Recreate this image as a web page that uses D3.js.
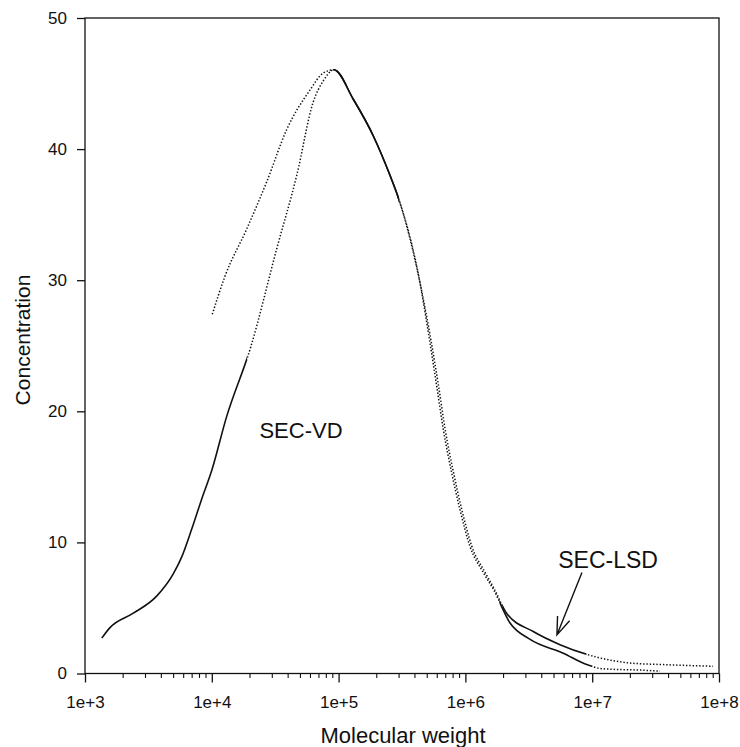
<!DOCTYPE html>
<html>
<head>
<meta charset="utf-8">
<script src="https://cdn.jsdelivr.net/npm/d3@7"></script>
<style>
  html, body { margin: 0; padding: 0; background: #fff; }
  svg { display: block; font-family: "Liberation Sans", Arial, sans-serif; }
</style>
</head>
<body>
<svg id="chart" width="740" height="747"></svg>
<script>
// ---- data ----
const xTickValues = [1e3, 1e4, 1e5, 1e6, 1e7, 1e8];
const xTickLabels = ["1e+3", "1e+4", "1e+5", "1e+6", "1e+7", "1e+8"];
const yTickValues = [0, 10, 20, 30, 40, 50];

// SEC-VD (starts at low MW, lower tail)
const vdMW = [1356, 1574, 2404, 3673, 4966, 5794, 6934, 8318, 10000, 13000, 20280,
  32510, 46770, 63100, 75680, 92040, 130600, 187900, 254100, 298000, 438500,
  526000, 594300, 669900, 779800, 905700, 1.086e6, 1.384e6, 1.667e6,
  2.249e6, 3.236e6, 5.916e6, 8.93e6, 1.216e7, 2.512e7, 3.428e7];
const vdConc = [2.7, 3.5, 4.6, 5.9, 7.6, 8.9, 11.0, 13.3, 15.5, 19.5, 24.9,
  32.4, 38.0, 43.6, 45.2, 46.05, 43.8, 41.0, 38.0, 36.2, 29.8,
  25.2, 21.9, 18.6, 15.3, 12.5, 9.7, 7.7, 6.4,
  3.85, 2.6, 1.55, 0.7, 0.36, 0.25, 0.18];

// SEC-LSD (starts at 1e4, upper tail)
const lsdMW = [10090, 12700, 18840, 27100, 39000, 59430, 75680, 92040, 130600,
  187900, 254100, 298000, 438500, 540000, 615000, 693000, 807000,
  937000, 1.124e6, 1.432e6, 1.700e6, 2.113e6, 3.428e6, 5.572e6, 1.084e7,
  1.986e7, 3.639e7, 8.974e7];
const lsdConc = [27.4, 30.3, 33.9, 37.5, 41.5, 44.5, 45.8, 46.05, 43.8,
  41.0, 38.0, 36.2, 29.8, 25.2, 21.9, 18.6, 15.3,
  12.5, 9.7, 7.7, 6.4, 4.6, 3.2, 2.2, 1.25,
  0.8, 0.68, 0.55];

const vdLabel = { text: "SEC-VD", mw: 5.05e4, c: 18.0 };
const lsdLabel = { text: "SEC-LSD", mw: 1.334e7, c: 8.05 };
const arrowTail = { mw: 8.3e6, c: 7.7 };
const arrowTip = { mw: 5.27e6, c: 2.94 };

// ---- layout ----
const svg = d3.select("#chart");
const mLeft = 85, mRight = 719, mTop = 18, mBottom = 673.5;
const x = d3.scaleLog().domain([1e3, 1e8]).range([mLeft, mRight]);
const y = d3.scaleLinear().domain([0, 50]).range([mBottom, mTop]);
const ink = "#111";

// frame
svg.append("rect").attr("x", mLeft).attr("y", mTop)
  .attr("width", mRight - mLeft).attr("height", mBottom - mTop)
  .attr("fill", "none").attr("stroke", ink).attr("stroke-width", 1.3);

// x axis
const minorX = [];
for (let e = 3; e < 8; e++) for (let m = 2; m <= 9; m++) minorX.push(m * Math.pow(10, e));
const xAxis = d3.axisBottom(x).tickValues(xTickValues)
  .tickFormat((d, i) => xTickLabels[i]).tickSize(9).tickPadding(13);
const gx = svg.append("g").attr("transform", `translate(0,${mBottom})`).call(xAxis);
gx.select(".domain").remove();
gx.selectAll(".tick line").attr("stroke", ink).attr("stroke-width", 1.3);
gx.selectAll(".tick text").attr("font-size", 17).attr("fill", ink)
  .attr("font-family", '"Liberation Sans", Arial, sans-serif');
svg.append("g").selectAll("line").data(minorX).join("line")
  .attr("x1", d => x(d)).attr("x2", d => x(d))
  .attr("y1", mBottom).attr("y2", mBottom + 4.5)
  .attr("stroke", ink).attr("stroke-width", 1.1);

// y axis
const yAxis = d3.axisLeft(y).tickValues(yTickValues).tickSize(8).tickPadding(10);
const gy = svg.append("g").attr("transform", `translate(${mLeft},0)`).call(yAxis);
gy.select(".domain").remove();
gy.selectAll(".tick line").attr("stroke", ink).attr("stroke-width", 1.3);
gy.selectAll(".tick text").attr("font-size", 17).attr("fill", ink)
  .attr("font-family", '"Liberation Sans", Arial, sans-serif');

// axis titles
svg.append("text").attr("x", (mLeft + mRight) / 2 + 1).attr("y", 743)
  .attr("text-anchor", "middle").attr("font-size", 22).attr("fill", ink)
  .text("Molecular weight");
svg.append("text").attr("transform", `translate(30,340) rotate(-90)`)
  .attr("text-anchor", "middle").attr("font-size", 21).attr("fill", ink)
  .text("Concentration");

// clip regions for solid / dotted segments
const defs = svg.append("defs");
function clipRange(id, ranges) {
  const cp = defs.append("clipPath").attr("id", id);
  ranges.forEach(([a, b]) => {
    cp.append("rect").attr("x", x(a)).attr("y", 0)
      .attr("width", x(b) - x(a)).attr("height", 747);
  });
}
clipRange("vdSolid", [[1e3, 1.9e4], [9.2e4, 3.0e5], [1.85e6, 1.0e7]]);
clipRange("vdDot", [[1.9e4, 9.2e4], [3.0e5, 1.85e6], [1.0e7, 1e8]]);
clipRange("lsdSolid", [[9.2e4, 3.0e5], [1.95e6, 9.0e6]]);
clipRange("lsdDot", [[1e3, 9.2e4], [3.0e5, 1.95e6], [9.0e6, 1e8]]);

const line = d3.line().x(d => x(d[0])).y(d => y(d[1])).curve(d3.curveMonotoneX);
const vd = vdMW.map((m, i) => [m, vdConc[i]]);
const lsd = lsdMW.map((m, i) => [m, lsdConc[i]]);

function drawSeries(data, solidId, dotId) {
  svg.append("path").datum(data).attr("d", line)
    .attr("fill", "none").attr("stroke", ink).attr("stroke-width", 1.6)
    .attr("clip-path", `url(#${solidId})`);
  svg.append("path").datum(data).attr("d", line)
    .attr("fill", "none").attr("stroke", ink).attr("stroke-width", 1.5)
    .attr("stroke-dasharray", "1.4 1.9")
    .attr("clip-path", `url(#${dotId})`);
}
drawSeries(vd, "vdSolid", "vdDot");
drawSeries(lsd, "lsdSolid", "lsdDot");

// labels
svg.append("text").attr("x", x(vdLabel.mw)).attr("y", y(vdLabel.c))
  .attr("text-anchor", "middle").attr("font-size", 22).attr("fill", ink)
  .text(vdLabel.text);
svg.append("text").attr("x", x(lsdLabel.mw)).attr("y", y(lsdLabel.c))
  .attr("text-anchor", "middle").attr("font-size", 23).attr("fill", ink)
  .text(lsdLabel.text);

// arrow
const tx = x(arrowTail.mw), ty = y(arrowTail.c);
const hx = x(arrowTip.mw), hy = y(arrowTip.c);
const ang = Math.atan2(ty - hy, tx - hx);
const wl = 19, wa = 20 * Math.PI / 180;
const w1 = [hx + wl * Math.cos(ang + wa), hy + wl * Math.sin(ang + wa)];
const w2 = [hx + wl * Math.cos(ang - wa), hy + wl * Math.sin(ang - wa)];
svg.append("path")
  .attr("d", `M${tx},${ty}L${hx},${hy}M${w1[0]},${w1[1]}L${hx},${hy}L${w2[0]},${w2[1]}`)
  .attr("fill", "none").attr("stroke", ink).attr("stroke-width", 1.4);
</script>
</body>
</html>
